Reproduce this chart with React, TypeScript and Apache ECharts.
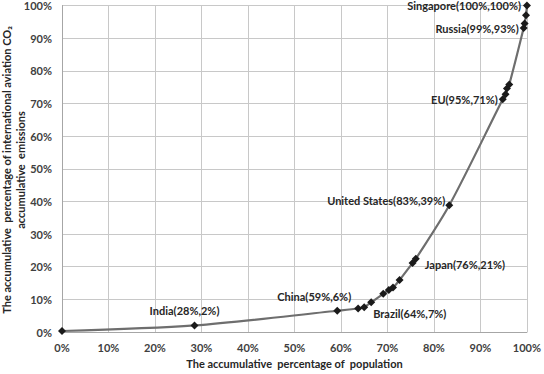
import React, { useEffect, useRef } from "react";
import * as echarts from "echarts";

// accumulative percentage of population (x) and of aviation CO2 emissions (y)
const popPct = [0, 28.5, 59.2, 63.7, 65.0, 66.5, 69.1, 70.3, 71.2, 72.6, 75.4, 76.1, 83.3, 94.8, 95.4, 95.7, 96.2, 99.3, 99.5, 99.8, 100];
const emisPct = [0.3, 2.0, 6.5, 7.2, 7.6, 9.1, 11.7, 12.9, 13.6, 15.9, 21.1, 22.4, 38.8, 71.3, 72.8, 74.6, 75.8, 93.1, 94.5, 97.0, 100];
const pointNames = ["", "India(28%,2%)", "China(59%,6%)", "", "Brazil(64%,7%)", "", "", "", "", "", "", "Japan(76%,21%)", "United States(83%,39%)", "EU(95%,71%)", "", "", "", "Russia(99%,93%)", "", "", "Singapore(100%,100%)"];

const xAxisTitle = "The accumulative  percentage of  population";
const yAxisTitle = ["The accumulative  percentage of international aviation CO\u2082", "accumulative  emissions"];

const labelPlacement: Record<string, { position: string; offset: number[] }> = {
  "India(28%,2%)": { position: "top", offset: [-10, 0] },
  "China(59%,6%)": { position: "top", offset: [-23, 0] },
  "Brazil(64%,7%)": { position: "right", offset: [0, 6] },
  "Japan(76%,21%)": { position: "right", offset: [0, 6] },
  "United States(83%,39%)": { position: "left", offset: [5, -5] },
  "EU(95%,71%)": { position: "left", offset: [4, 0] },
  "Russia(99%,93%)": { position: "left", offset: [4, 0] },
  "Singapore(100%,100%)": { position: "left", offset: [3, 0] },
};

const FONT = "Lato";

export default function App() {
  const ref = useRef<HTMLDivElement>(null);
  useEffect(() => {
    if (!ref.current) return;
    const chart = echarts.init(ref.current, undefined, { renderer: "svg" });
    const data = popPct.map((x, i) => {
      const name = pointNames[i];
      const item: any = { value: [x, emisPct[i]] };
      if (name) {
        const p = labelPlacement[name];
        item.label = {
          show: true,
          formatter: name,
          position: p.position,
          offset: p.offset,
          distance: 5,
          fontFamily: FONT,
          fontWeight: "bold",
          fontSize: 11,
          color: "#262626",
        };
      }
      return item;
    });
    const axisLabelStyle = {
      fontFamily: FONT,
      fontWeight: "bold" as const,
      fontSize: 11,
      color: "#404040",
      formatter: "{value}%",
    };
    chart.setOption({
      animation: false,
      backgroundColor: "#ffffff",
      grid: { left: 62, right: 13, top: 5, bottom: 38 },
      xAxis: {
        type: "value",
        min: 0,
        max: 100,
        interval: 10,
        name: xAxisTitle,
        nameLocation: "middle",
        nameGap: 26,
        nameTextStyle: { fontFamily: FONT, fontWeight: "bold", fontSize: 11, color: "#262626" },
        axisLine: { show: true, lineStyle: { color: "#a6a6a6", width: 1 } },
        axisTick: { show: false },
        axisLabel: { ...axisLabelStyle, margin: 10 },
        splitLine: { show: true, lineStyle: { color: "#c8c8c8", width: 1 } },
      },
      yAxis: {
        type: "value",
        min: 0,
        max: 100,
        interval: 10,
        axisLine: { show: true, lineStyle: { color: "#a6a6a6", width: 1 } },
        axisTick: { show: false },
        axisLabel: { ...axisLabelStyle, margin: 10 },
        splitLine: { show: true, lineStyle: { color: "#c8c8c8", width: 1 } },
      },
      graphic: [
        {
          type: "text",
          x: 13,
          y: 170,
          rotation: Math.PI / 2,
          style: {
            text: yAxisTitle.join("\n"),
            fontFamily: FONT,
            fontWeight: "bold",
            fontSize: 11,
            lineHeight: 14,
            fill: "#262626",
            align: "center",
            verticalAlign: "middle",
          },
        },
      ],
      series: [
        {
          type: "line",
          data,
          smooth: 0.3,
          symbol: "diamond",
          symbolSize: 8,
          itemStyle: { color: "#1a1a1a" },
          lineStyle: { color: "#6e6e6e", width: 2.2 },
        },
      ],
    });
    return () => chart.dispose();
  }, []);
  return (
    <div
      ref={ref}
      style={{ position: "absolute", left: 0, top: 0, width: 544, height: 374 }}
    />
  );
}
